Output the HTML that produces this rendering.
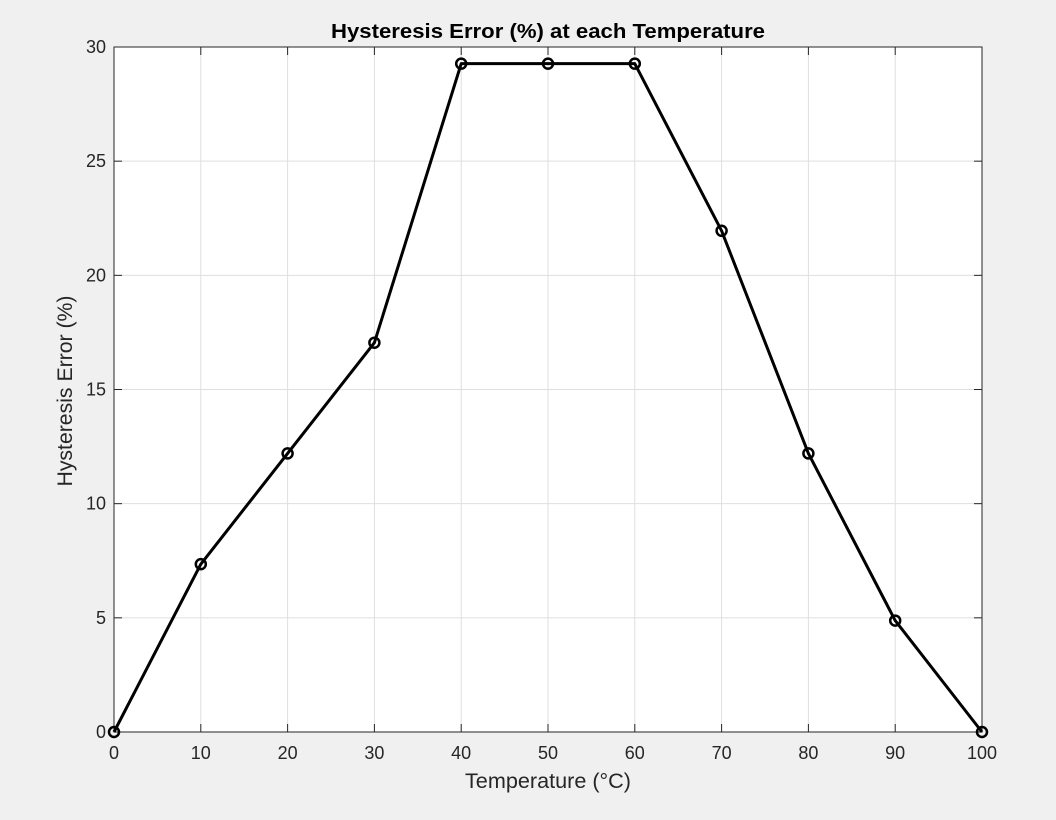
<!DOCTYPE html>
<html><head><meta charset="utf-8"><style>
html,body{margin:0;padding:0;background:#f0f0f0;}
svg{display:block;font-family:"Liberation Sans",sans-serif;}
</style></head><body>
<svg id="chart" width="1056" height="820" xmlns="http://www.w3.org/2000/svg">
<rect x="0" y="0" width="1056" height="820" fill="#f0f0f0"/>
<rect x="114" y="47" width="868" height="685" fill="#ffffff"/>
<g id="grid"></g>
<g id="ticks"></g>
<rect x="114" y="47" width="868" height="685" fill="none" stroke="#262626" stroke-width="1"/>
<g id="series"></g>
<text x="548" y="38" text-anchor="middle" font-size="20" font-weight="bold" fill="#000" textLength="434" lengthAdjust="spacingAndGlyphs">Hysteresis Error (%) at each Temperature</text>
<text x="548" y="788" text-anchor="middle" font-size="21" fill="#262626" textLength="166" lengthAdjust="spacingAndGlyphs">Temperature (°C)</text>
<text transform="translate(72,391) rotate(-90)" text-anchor="middle" font-size="21" fill="#262626" textLength="191" lengthAdjust="spacingAndGlyphs">Hysteresis Error (%)</text>
</svg>
<script>
const temps = [0,10,20,30,40,50,60,70,80,90,100];
const errors = [0,7.35,12.2,17.05,29.27,29.27,29.27,21.95,12.2,4.88,0];
const xTicks = [0,10,20,30,40,50,60,70,80,90,100];
const yTicks = [0,5,10,15,20,25,30];

const NS="http://www.w3.org/2000/svg";
const X0=114,X1=982,Y0=732,Y1=47;
function sx(v){return X0+(v-0)/(100-0)*(X1-X0);}
function sy(v){return Y0-(v-0)/(30-0)*(Y0-Y1);}
function mk(tag,attrs,parent){const e=document.createElementNS(NS,tag);for(const k in attrs)e.setAttribute(k,attrs[k]);parent.appendChild(e);return e;}
const grid=document.getElementById('grid'),ticks=document.getElementById('ticks'),series=document.getElementById('series');
xTicks.forEach(t=>{
  const x=sx(t);
  const g=mk('line',{x1:x,x2:x,y1:Y1,y2:Y0,stroke:'#dfdfdf','stroke-width':1},grid);
  
  
  const tk=mk('line',{x1:x,x2:x,y1:Y0,y2:Y0-8,stroke:'#262626','stroke-width':1},ticks);
  
  
  const tk2=mk('line',{x1:x,x2:x,y1:Y1,y2:Y1+8,stroke:'#262626','stroke-width':1},ticks);
  
  
  const l=mk('text',{x:x,y:Y0+27,'text-anchor':'middle','font-size':18,fill:'#262626'},ticks);
  l.textContent=t;
  
  
});
yTicks.forEach(t=>{
  const y=sy(t);
  const g=mk('line',{x1:X0,x2:X1,y1:y,y2:y,stroke:'#dfdfdf','stroke-width':1},grid);
  
  
  const tk=mk('line',{x1:X0,x2:X0+8,y1:y,y2:y,stroke:'#262626','stroke-width':1},ticks);
  
  
  const tk2=mk('line',{x1:X1,x2:X1-8,y1:y,y2:y,stroke:'#262626','stroke-width':1},ticks);
  
  
  const l=mk('text',{x:X0-8,y:y+6,'text-anchor':'end','font-size':18,fill:'#262626'},ticks);
  l.textContent=t;
  
  
});
const pts=temps.map((t,i)=>sx(t)+','+sy(errors[i])).join(' ');
const line=mk('polyline',{points:pts,fill:'none',stroke:'#000','stroke-width':3,'stroke-linejoin':'round'},series);


temps.forEach((t,i)=>{
  const c=mk('circle',{cx:sx(t),cy:sy(errors[i]),r:5,fill:'none',stroke:'#000','stroke-width':2.5},series);
  
  
});
</script>
</body></html>
